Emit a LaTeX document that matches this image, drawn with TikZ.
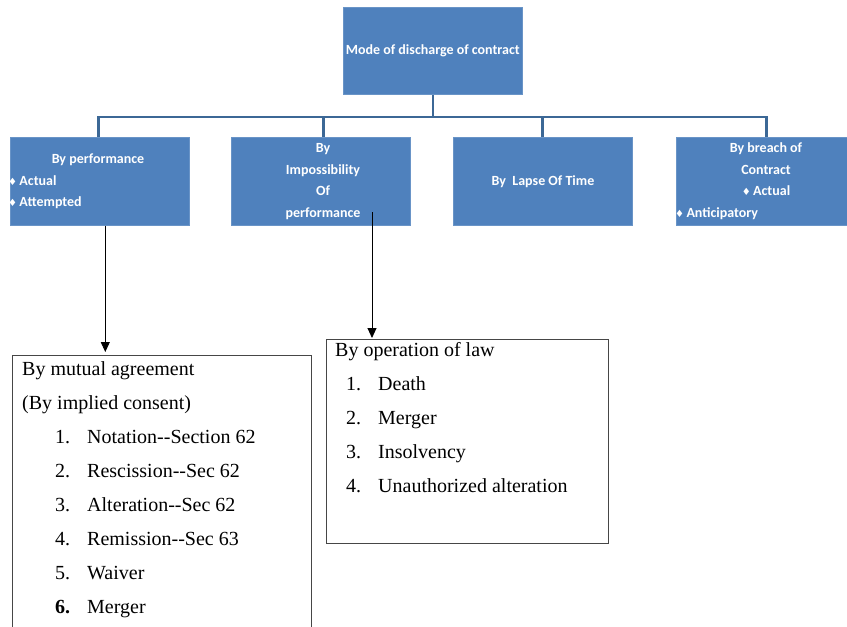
\documentclass[tikz,border=0pt]{standalone}
\usepackage{fontspec}
\setmainfont{Liberation Serif}
\newfontfamily\carl{Carlito}
\newfontfamily\dvs{DejaVu Sans}
\usetikzlibrary{arrows.meta}
\definecolor{boxblue}{RGB}{79,129,189}
\definecolor{busblue}{RGB}{60,104,150}
\definecolor{frame}{RGB}{70,70,70}
\newcommand{\dmd}{{\dvs\fontsize{10}{10}\selectfont ♦}\,}
\newcommand{\dd}{-{}-}
\tikzset{
  bluebox/.style={rectangle, fill=boxblue, draw=boxblue!85!white, line width=0.6pt,
    minimum width=179pt, minimum height=88pt, inner sep=0pt, anchor=north west},
  wt/.style={text=white, font=\carl\bfseries\fontsize{14}{16}\selectfont, inner sep=0pt},
  bus/.style={draw=busblue, line width=2.8pt},
  listbox/.style={rectangle, draw=frame, line width=0.8pt, inner sep=0pt, anchor=north west},
  st/.style={font=\fontsize{20}{24}\selectfont, inner sep=0pt, anchor=base west},
  arr/.style={draw=black, line width=0.9pt, -{Triangle[width=9pt,length=10pt]}}
}
\begin{document}
\begin{tikzpicture}[x=1pt,y=-1pt]
\useasboundingbox (0,0) rectangle (847,627);
\clip (0,0) rectangle (847,627);

% top of the hierarchy
\node[bluebox, minimum width=179pt, minimum height=87pt] (top) at (343,7) {};
\node[wt] (toptxt) at (top.center) {Mode of discharge of contract};

% four branch boxes
\node[bluebox] (b1) at (10,137) {};
\node[bluebox] (b2) at (231,137) {};
\node[bluebox] (b3) at (453,137) {};
\node[bluebox] (b4) at (676,137) {};

% connector bus
\coordinate (busmid) at (433,117);
\draw[bus] (top.south -| busmid) -- (busmid);
\draw[bus] ([xshift=-1.5pt]b1.north) |- (busmid) -| ([xshift=0.5pt]b4.north);
\draw[bus] ([xshift=2.5pt]b2.north) -- ([xshift=2.5pt]b2.north |- busmid);
\draw[bus] (b3.north) -- (b3.north |- busmid);

% texts in the branch boxes
\node[wt, anchor=base] (t1a) at (98,163) {By performance};
\node[wt, anchor=base west] (t1b) at (8,185) {\dmd Actual};
\node[wt, anchor=base west] (t1c) at (8,206) {\dmd Attempted};

\node[wt, anchor=base] (t2a) at (323,152) {By};
\node[wt, anchor=base] (t2b) at (323,174) {Impossibility};
\node[wt, anchor=base] (t2c) at (323,195) {Of};
\node[wt, anchor=base] (t2d) at (323,217) {performance};

\node[wt, anchor=base] (t3a) at (543,185) {By\ \ Lapse Of Time};

\node[wt, anchor=base] (t4a) at (766,152) {By breach of};
\node[wt, anchor=base] (t4b) at (766,174) {Contract};
\node[wt, anchor=base] (t4c) at (766,195) {\dmd Actual};
\node[wt, anchor=base west] (t4d) at (675,217) {\dmd Anticipatory};

% lower list boxes
\node[listbox, minimum width=299pt, minimum height=290pt] (m) at (12,355) {};
\node[listbox, minimum width=282pt, minimum height=204pt] (ol) at (326,339) {};

\node[st] (m0) at (22,375) {By mutual agreement};
\node[st] (m1) at (22,409) {(By implied consent)};
\node[st] (m2) at (55,443) {\makebox[32pt][l]{1.}Notation\dd Section 62};
\node[st] (m3) at (55,477) {\makebox[32pt][l]{2.}Rescission\dd Sec 62};
\node[st] (m4) at (55,511) {\makebox[32pt][l]{3.}Alteration\dd Sec 62};
\node[st] (m5) at (55,545) {\makebox[32pt][l]{4.}Remission\dd Sec 63};
\node[st] (m6) at (55,579) {\makebox[32pt][l]{5.}Waiver};
\node[st] (m7) at (55,613) {\makebox[32pt][l]{\bfseries 6.}Merger};

\node[st] (o0) at (335,356) {By operation of law};
\node[st] (o1) at (346,390) {\makebox[32pt][l]{1.}Death};
\node[st] (o2) at (346,424) {\makebox[32pt][l]{2.}Merger};
\node[st] (o3) at (346,458) {\makebox[32pt][l]{3.}Insolvency};
\node[st] (o4) at (346,492) {\makebox[32pt][l]{4.}Unauthorized alteration};

% arrows
\coordinate (s2) at (372,212);
\draw[arr] ([xshift=5.5pt]b1.south) -- ([xshift=5.5pt,yshift=3pt]b1.south |- m.north);
\draw[arr] (s2) -- ([yshift=1pt]s2 |- ol.north);
\end{tikzpicture}
\end{document}
